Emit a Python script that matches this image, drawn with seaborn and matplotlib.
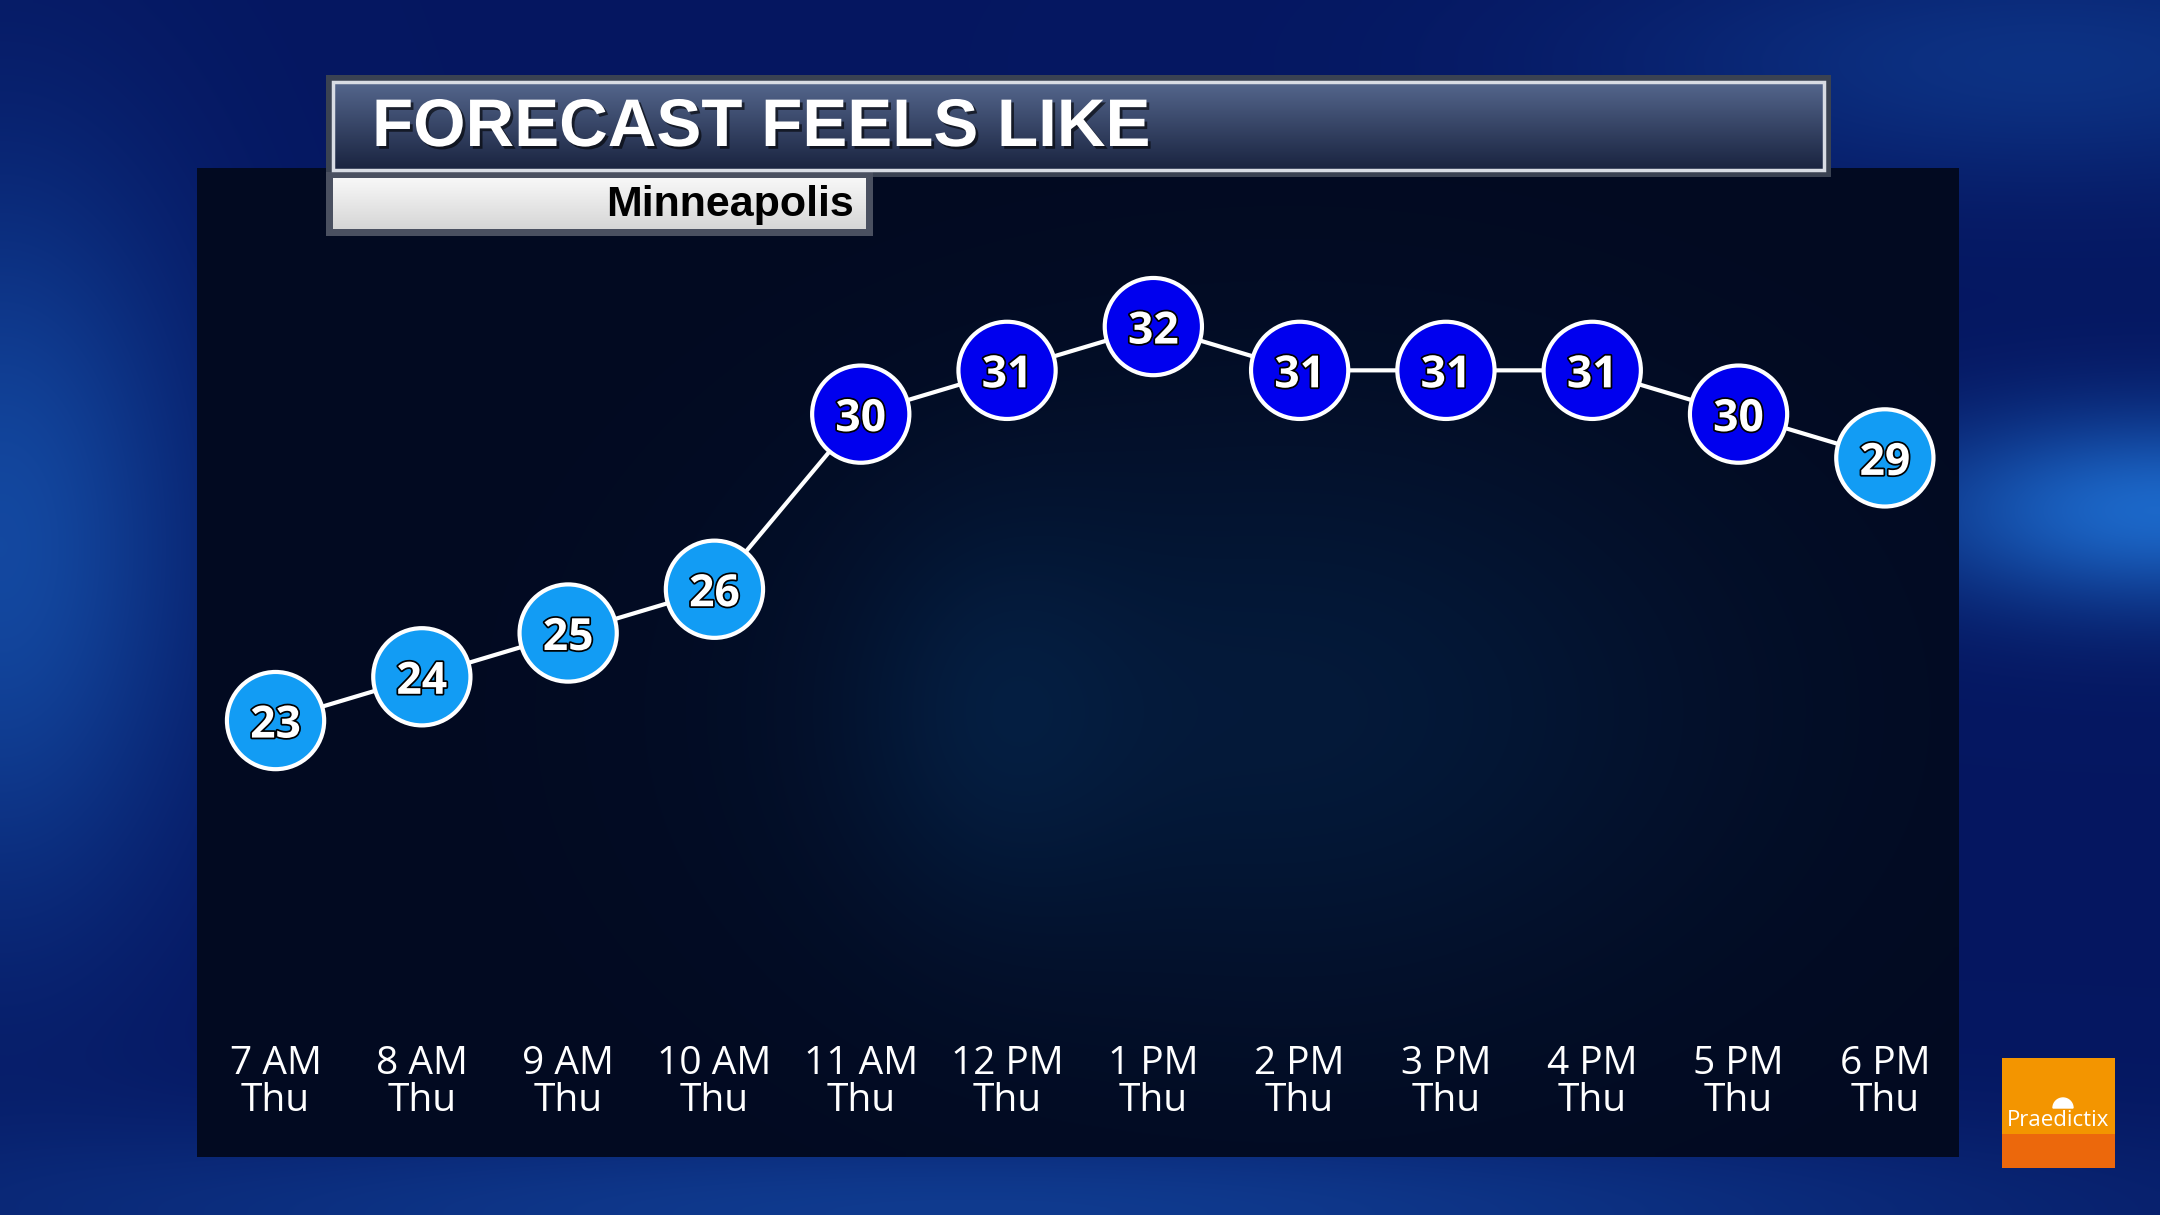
import numpy as np
import pandas as pd
import matplotlib.pyplot as plt
import matplotlib.patheffects as pe
from matplotlib.patches import Rectangle, Wedge
import seaborn as sns

sns.set_style("white")
plt.rcParams["font.family"] = ["Open Sans", "DejaVu Sans"]

# chart data
hours = ["7 AM", "8 AM", "9 AM", "10 AM", "11 AM", "12 PM",
         "1 PM", "2 PM", "3 PM", "4 PM", "5 PM", "6 PM"]
day = "Thu"
feels_like = [23, 24, 25, 26, 30, 31, 32, 31, 31, 31, 30, 29]
title = "FORECAST FEELS LIKE"
city = "Minneapolis"
brand = "Praedictix"

df = pd.DataFrame({"idx": range(len(hours)), "feels": feels_like})
df["level"] = np.where(df["feels"] >= 30, "warm", "cool")
palette = {"cool": "#129cf4", "warm": "#0000ee"}

W, H = 2160, 1215
fig = plt.figure(figsize=(W / 100, H / 100), dpi=100)

# background layer in pixel coordinates
bg = fig.add_axes([0, 0, 1, 1])
bg.set_xlim(0, W)
bg.set_ylim(H, 0)
bg.axis("off")

h, w = 243, 432
yy, xx = np.mgrid[0:1:h * 1j, 0:1:w * 1j]
def glow(cx, cy, sx, sy):
    return np.exp(-(((xx - cx) / sx) ** 2 + ((yy - cy) / sy) ** 2))
img = np.zeros((h, w, 3))
img[..., 0] = 0.02
img[..., 1] = 0.09
img[..., 2] = 0.38
g = (0.9 * glow(1.0, 0.42, 0.12, 0.08) + 0.55 * glow(0.0, 0.45, 0.09, 0.3)
     + 0.4 * glow(0.45, 1.0, 0.5, 0.08) + 0.3 * glow(0.95, 0.05, 0.2, 0.1))
img[..., 0] += 0.10 * g
img[..., 1] += 0.35 * g
img[..., 2] += 0.45 * g
bg.imshow(np.clip(img, 0, 1), extent=[0, W, H, 0], aspect="auto",
          interpolation="bilinear", zorder=0)

# dark panel
ph, pw = 120, 200
py, px = np.mgrid[0:1:ph * 1j, 0:1:pw * 1j]
panel = np.zeros((ph, pw, 3))
pg = (np.exp(-(((px - 0.62) / 0.25) ** 2 + ((py - 0.55) / 0.3) ** 2)) * 0.6
      + np.exp(-(((px - 0.45) / 0.08) ** 2 + ((py - 0.55) / 0.2) ** 2)) * 0.4)
panel[..., 0] = 0.01 + 0.01 * pg
panel[..., 1] = 0.04 + 0.10 * pg
panel[..., 2] = 0.13 + 0.16 * pg
bg.imshow(panel, extent=[197, 1959, 1157, 168], aspect="auto",
          interpolation="bilinear", zorder=1)

# title bar
tb = np.linspace(0, 1, 60)[:, None]
tcol = np.zeros((60, 2, 3))
top, bot = np.array([0.33, 0.40, 0.55]), np.array([0.10, 0.14, 0.25])
for i in range(3):
    tcol[..., i] = (top[i] * (1 - tb) + bot[i] * tb)
bg.add_patch(Rectangle((326, 75), 1505, 102, facecolor="#3a4252", edgecolor="none", zorder=2))
bg.imshow(tcol, extent=[333, 1824, 170, 82], aspect="auto", interpolation="bilinear", zorder=3)
bg.add_patch(Rectangle((333, 82), 1491, 88, facecolor="none", edgecolor="#d8dce4", lw=2.5, zorder=4))
bg.text(372, 129, title, color="white", fontsize=48.5, fontweight="bold",
        family="Liberation Sans", va="center", ha="left", zorder=5,
        path_effects=[pe.withSimplePatchShadow(offset=(2, -2), shadow_rgbFace="black", alpha=0.6)])

# city bar
scol = np.zeros((60, 2, 3))
for i in range(3):
    scol[..., i] = (0.97 * (1 - tb) + 0.84 * tb)[:, :]
bg.add_patch(Rectangle((326, 172), 547, 64, facecolor="#4a5060", edgecolor="none", zorder=2))
bg.imshow(scol, extent=[333, 866, 229, 178], aspect="auto", interpolation="bilinear", zorder=3)
bg.text(854, 205, city, color="black", fontsize=31, fontweight="bold",
        family="Liberation Sans", va="center", ha="right", zorder=5)

# logo
bg.add_patch(Rectangle((2002, 1058), 113, 76, facecolor="#f39500", edgecolor="none", zorder=2))
bg.add_patch(Rectangle((2002, 1134), 113, 34, facecolor="#ec680c", edgecolor="none", zorder=2))
bg.add_patch(Wedge((2063, 1108), 10, 180, 360, facecolor="white", zorder=3))
bg.text(2058, 1121, brand, color="white", fontsize=16, va="center", ha="center", zorder=3)

# chart
ax = fig.add_axes([202.4 / W, 1 - 1020 / H, 1755.6 / W, 830 / H])
ax.patch.set_alpha(0)
sns.lineplot(data=df, x="idx", y="feels", color="white", lw=3, ax=ax, zorder=2)
sns.scatterplot(data=df, x="idx", y="feels", hue="level", palette=palette,
                s=70 ** 2, edgecolor="white", linewidth=3, legend=False, ax=ax, zorder=3)
for i, v in zip(df["idx"], df["feels"]):
    ax.text(i, v, str(v), color="white", fontsize=32, fontweight="bold",
            ha="center", va="center_baseline", zorder=4,
            path_effects=[pe.withStroke(linewidth=2.5, foreground="black")])

ax.set_xlim(-0.5, len(hours) - 0.5)
ax.set_ylim(16.16, 35.12)
ax.set_xticks(df["idx"])
ax.set_xticklabels([f"{hr}\n{day}" for hr in hours], color="white",
                   fontsize=28, linespacing=0.95)
ax.tick_params(axis="x", length=0, pad=18)
ax.set_yticks([])
ax.set_xlabel("")
ax.set_ylabel("")
sns.despine(ax=ax, left=True, bottom=True)

fig.savefig("out.png", dpi=100)
